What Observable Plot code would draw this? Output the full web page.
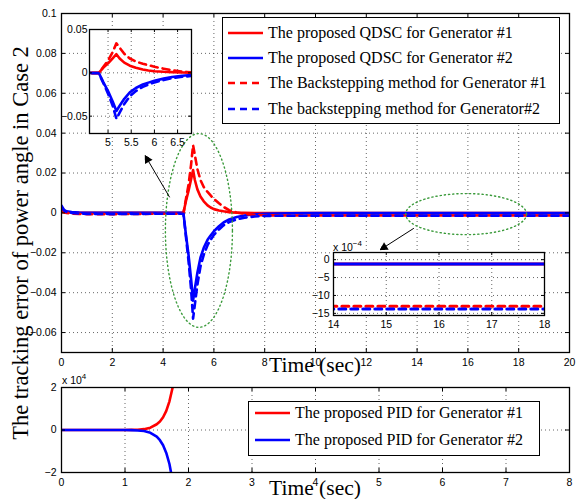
<!DOCTYPE html>
<html><head><meta charset="utf-8">
<script src="https://cdn.jsdelivr.net/npm/d3@7"></script>
<script src="https://cdn.jsdelivr.net/npm/@observablehq/plot@0.6"></script>
<style>
body{margin:0;background:#fff}
#c{position:relative;width:583px;height:499px;overflow:hidden;background:#fff}
#c > *{position:absolute}
.serif{font-family:"Liberation Serif","Times New Roman",serif;color:#000;white-space:nowrap;line-height:1}
.sans{font-family:"Liberation Sans",Arial,sans-serif;font-size:10.5px;color:#000;white-space:nowrap;line-height:1}
.leg{border:1px solid #000;background:#fff;box-sizing:border-box}
.row{position:absolute;height:20px;display:flex;align-items:center;font-size:16px}
.row svg{margin-right:5px}
</style></head><body><div id="c"></div><script>
// ---------------- data ----------------
const time = [0, 0.1, 0.2, 0.4, 0.7, 1, 2, 3, 4, 4.6, 4.8, 4.9, 5.0, 5.1, 5.18, 5.25, 5.35, 5.47, 5.6, 5.75, 5.87, 6.0, 6.2, 6.38, 6.6, 6.9, 7.2, 7.6, 8, 9, 10, 12, 14, 16, 18, 20];
const qdscG1 = [0.0012, 0.0007, 0.0004, 0.0002, 0.0001, 0, 0, 0, 0, 0, 0, 0.006, 0.011, 0.0168, 0.0215, 0.0165, 0.0118, 0.0082, 0.0058, 0.0038, 0.0027, 0.0019, 0.0012, 0.0008, 0.0004, 0.0001, 0, -0.0001, -0.00012, -0.00012, -0.00012, -0.00012, -0.00012, -0.00012, -0.00012, -0.00012];
const qdscG2 = [0.0037, 0.0015, 0.0008, 0.0004, 0.0002, 0.0001, 0, 0, 0, 0, 0, -0.011, -0.021, -0.033, -0.044, -0.038, -0.030, -0.0225, -0.0175, -0.0135, -0.0113, -0.0092, -0.0067, -0.0048, -0.0033, -0.0021, -0.0013, -0.0007, -0.0004, -0.0002, -0.00012, -0.00012, -0.00012, -0.00012, -0.00012, -0.00012];
const bsG1 = [0.0005, 0.0002, 0, -0.0003, -0.0005, -0.0006, -0.0006, -0.0005, -0.0004, -0.0004, -0.0003, 0.007, 0.014, 0.024, 0.034, 0.029, 0.022, 0.0165, 0.013, 0.0105, 0.0088, 0.007, 0.0048, 0.003, 0.0014, 0.0002, -0.0005, -0.001, -0.0012, -0.0013, -0.0013, -0.0013, -0.0013, -0.0013, -0.0013, -0.0013];
const bsG2 = [0.003, 0.0012, 0.0005, 0, -0.0003, -0.0005, -0.0006, -0.0005, -0.0004, -0.0004, -0.0004, -0.012, -0.024, -0.038, -0.053, -0.046, -0.036, -0.027, -0.021, -0.0162, -0.0135, -0.011, -0.0083, -0.0062, -0.0046, -0.0032, -0.0024, -0.0018, -0.0015, -0.0014, -0.00138, -0.00138, -0.00138, -0.00138, -0.00138, -0.00138];
const pidTime = [0, 0.5, 1, 1.1, 1.2, 1.3, 1.4, 1.5, 1.55, 1.6, 1.65, 1.7, 1.75, 1.8];
const pidG1 = [0, 0, 0, 50, 150, 400, 1100, 2700, 4000, 6000, 9000, 13500, 20000, 29000];
const pidG2 = [0, 0, 0, -50, -200, -500, -1300, -3100, -4800, -7200, -10800, -16000, -24000, -34000];

const mainXTicks = [0, 2, 4, 6, 8, 10, 12, 14, 16, 18, 20];
const mainYTicks = [-0.06, -0.04, -0.02, 0, 0.02, 0.04, 0.06, 0.08, 0.1];
const inset1XTicks = [5, 5.5, 6, 6.5];
const inset1YTicks = [-0.05, 0, 0.05];
const inset2XTicks = [14, 15, 16, 17, 18];
const inset2YTicks = [-15, -10, -5, 0];
const pidXTicks = [0, 1, 2, 3, 4, 5, 6, 7, 8];
const pidYTicks = [-2, 0, 2];

const mainLabels = ["The proposed QDSC for Generator #1", "The proposed QDSC for Generator #2", "The Backstepping method for Generator #1", "The backstepping method for Generator#2"];
const pidLabels = ["The proposed PID for Generator #1", "The proposed PID for Generator #2"];
const yTitle = "The tracking error of power angle in Case 2";
const xTitle = "Time (sec)";

// ---------------- styling ----------------
const RED = "#ff0000", BLUE = "#0000ff", GREEN = "#3a9a3a";
const DASH = "7,5";
const series = [
  {vals: qdscG1, stroke: RED, dash: null},
  {vals: qdscG2, stroke: BLUE, dash: null},
  {vals: bsG1, stroke: RED, dash: DASH},
  {vals: bsG2, stroke: BLUE, dash: DASH}
];
const axStyle = {background: "transparent", fontFamily: "Liberation Sans, Arial, sans-serif", fontSize: "10.5px", color: "#000", overflow: "visible"};
const fmt = d => String(+d.toFixed(3)).replace("-", "\u2212");
const gridStyle = {stroke: "#000", strokeOpacity: 0.6, strokeDasharray: "1,3", strokeWidth: 1};

function tickMarks(xt, yt, pw, ph, len = 4) {
  return [
    Plot.ruleX(xt, {x: d => d, insetTop: ph - len, stroke: "#000"}),
    Plot.ruleX(xt, {x: d => d, insetBottom: ph - len, stroke: "#000"}),
    Plot.ruleY(yt, {y: d => d, insetRight: pw - len, stroke: "#000"}),
    Plot.ruleY(yt, {y: d => d, insetLeft: pw - len, stroke: "#000"})
  ];
}
function lineMarks(scale, width) {
  return series.map(s => Plot.line(time.map((t, i) => ({t, v: s.vals[i] * scale})), {
    x: "t", y: "v", stroke: s.stroke, strokeWidth: width, strokeDasharray: s.dash, clip: true
  }));
}
// annotation ellipses (center / radii in data units)
function ellipse(cx, cy, rx, ry) {
  return d3.range(0, 361, 4).map(a => ({x: cx + rx * Math.cos(a * Math.PI / 180), y: cy + ry * Math.sin(a * Math.PI / 180)}));
}
const arrows = [{x1: 4.25, y1: 0.008, x2: 3.3, y2: 0.0286}, {x1: 13.86, y1: -0.0078, x2: 12.56, y2: -0.0184}];

const c = document.getElementById("c");
function place(el, left, top) { el.style.left = left + "px"; el.style.top = top + "px"; c.appendChild(el); return el; }
function div(html, cls, left, top, extra = "") {
  const d = document.createElement("div"); d.className = cls; d.innerHTML = html; d.style.cssText = extra; return place(d, left, top);
}

// titles (under plots)
div(xTitle, "serif", 0, 355, "width:630px;text-align:center;font-size:21.5px;");
div(xTitle, "serif", 0, 478, "width:630px;text-align:center;font-size:21.5px;");
div(yTitle, "serif", 21 - 250, 243 - 11, "width:500px;text-align:center;font-size:22.5px;transform:rotate(-90deg);transform-origin:50% 50%;height:22px;");

// ---------------- main plot ----------------
const mW = 583, mH = 380, mL = 61, mR = 14, mT = 13, mB = 28;
const mPW = mW - mL - mR, mPH = mH - mT - mB;
const main = Plot.plot({
  width: mW, height: mH, marginLeft: mL, marginRight: mR, marginTop: mT, marginBottom: mB,
  style: axStyle,
  x: {domain: [0, 20], ticks: mainXTicks, tickSize: 0, tickPadding: 6, label: null, tickFormat: fmt},
  y: {domain: [-0.07, 0.1], ticks: mainYTicks, tickSize: 0, tickPadding: 5, label: null, tickFormat: fmt},
  marks: [
    Plot.ruleX(mainXTicks.slice(1, -1), {x: d => d, ...gridStyle}),
    Plot.ruleY(mainYTicks.slice(0, -1), {y: d => d, ...gridStyle}),
    ...lineMarks(1, 2.6),
    Plot.line(ellipse(5.41, -0.0088, 1.32, 0.0486), {x: "x", y: "y", stroke: GREEN, strokeWidth: 1.4, strokeDasharray: "1.2,3"}),
    Plot.line(ellipse(15.93, -0.0006, 2.38, 0.0103), {x: "x", y: "y", stroke: GREEN, strokeWidth: 1.4, strokeDasharray: "1.2,3"}),
    Plot.arrow(arrows, {x1: "x1", y1: "y1", x2: "x2", y2: "y2", stroke: "#000", strokeWidth: 1, headLength: 6}),
    Plot.dot([arrows[0]], {x: "x2", y: "y2", symbol: "triangle2", r: 4.2, fill: "#000", rotate: -30, dx: 2.2, dy: 3.8}),
    Plot.dot([arrows[1]], {x: "x2", y: "y2", symbol: "triangle2", r: 4.2, fill: "#000", rotate: -122, dx: 3.7, dy: -2.3}),
    ...tickMarks(mainXTicks, mainYTicks, mPW, mPH),
    Plot.frame({stroke: "#000", strokeWidth: 1.3})
  ]
});
place(main, 0, 0);

// ---------------- inset 1 ----------------
const i1L = 33, i1T = 9, i1PW = 102, i1PH = 104;
const inset1 = Plot.plot({
  width: i1L + i1PW + 8, height: i1T + i1PH + 24, marginLeft: i1L, marginRight: 8, marginTop: i1T, marginBottom: 24,
  style: axStyle,
  x: {domain: [4.6, 6.8], ticks: inset1XTicks, tickSize: 0, tickPadding: 5, label: null, tickFormat: fmt},
  y: {domain: [-0.07, 0.05], ticks: inset1YTicks, tickSize: 0, tickPadding: 2, label: null, tickFormat: fmt},
  marks: [
    Plot.frame({fill: "#fff", stroke: null}),
    Plot.ruleX(inset1XTicks, {x: d => d, ...gridStyle}),
    Plot.ruleY([-0.05, 0], {y: d => d, ...gridStyle}),
    ...lineMarks(1, 2.6),
    ...tickMarks(inset1XTicks, inset1YTicks, i1PW, i1PH, 3),
    Plot.frame({stroke: "#000", strokeWidth: 1.3})
  ]
});
place(inset1, 89 - i1L, 29 - i1T);

// ---------------- inset 2 ----------------
const i2L = 35, i2T = 18, i2PW = 211, i2PH = 63;
const inset2 = Plot.plot({
  width: i2L + i2PW + 8, height: i2T + i2PH + 22, marginLeft: i2L, marginRight: 8, marginTop: i2T, marginBottom: 22,
  style: axStyle,
  x: {domain: [14, 18], ticks: inset2XTicks, tickSize: 0, tickPadding: 5, label: null, tickFormat: fmt},
  y: {domain: [-15.6, 2], ticks: inset2YTicks, tickSize: 0, tickPadding: 4, label: null, tickFormat: fmt},
  marks: [
    Plot.frame({fill: "#fff", stroke: null}),
    Plot.ruleX(inset2XTicks.slice(1, -1), {x: d => d, ...gridStyle}),
    Plot.ruleY(inset2YTicks, {y: d => d, ...gridStyle}),
    ...lineMarks(1e4, 3),
    ...tickMarks(inset2XTicks, inset2YTicks, i2PW, i2PH, 3),
    Plot.frame({stroke: "#000", strokeWidth: 1.3})
  ]
});
place(inset2, 333 - i2L, 252 - i2T);
div("x 10<sup style='font-size:8px;vertical-align:5px'>\u22124</sup>", "sans", 333, 240);

// ---------------- bottom PID plot ----------------
const bW = 583, bH = 127, bT = 15, bB = 27;
const bPW = bW - mL - mR, bPH = bH - bT - bB;
const pid = Plot.plot({
  width: bW, height: bH, marginLeft: mL, marginRight: mR, marginTop: bT, marginBottom: bB,
  style: axStyle,
  x: {domain: [0, 8], ticks: pidXTicks, tickSize: 0, tickPadding: 6, label: null, tickFormat: fmt},
  y: {domain: [-2, 2], ticks: pidYTicks, tickSize: 0, tickPadding: 5, label: null, tickFormat: fmt},
  marks: [
    Plot.ruleX(pidXTicks.slice(1, -1), {x: d => d, ...gridStyle}),
    Plot.ruleY([0], {y: d => d, ...gridStyle}),
    Plot.line(pidTime.map((t, i) => ({t, v: pidG1[i] / 1e4})), {x: "t", y: "v", stroke: RED, strokeWidth: 2.6, clip: true}),
    Plot.line(pidTime.map((t, i) => ({t, v: pidG2[i] / 1e4})), {x: "t", y: "v", stroke: BLUE, strokeWidth: 2.6, clip: true}),
    ...tickMarks(pidXTicks, pidYTicks, bPW, bPH),
    Plot.frame({stroke: "#000", strokeWidth: 1.3})
  ]
});
place(pid, 0, 372);
div("x 10<sup style='font-size:8px;vertical-align:5px'>4</sup>", "sans", 62, 373);

// ---------------- legends ----------------
function sample(color, dash) {
  return `<svg width="35" height="6"><line x1="0" x2="35" y1="3" y2="3" stroke="${color}" stroke-width="2.6" ${dash ? `stroke-dasharray="${dash}"` : ""}/></svg>`;
}
const leg1 = div("", "leg", 222, 17, "width:338px;height:107px;");
const rowCenters1 = [33, 58, 83, 109];
series.forEach((s, i) => {
  const r = document.createElement("div"); r.className = "row serif";
  r.style.left = "5px"; r.style.top = (rowCenters1[i] - 17 - 1 - 10) + "px";
  r.innerHTML = sample(s.stroke, s.dash) + "<span>" + mainLabels[i] + "</span>";
  leg1.appendChild(r);
});
const leg2 = div("", "leg", 248, 401, "width:292px;height:55px;");
const rowCenters2 = [413, 440];
[RED, BLUE].forEach((col, i) => {
  const r = document.createElement("div"); r.className = "row serif";
  r.style.left = "6px"; r.style.top = (rowCenters2[i] - 401 - 1 - 10) + "px";
  r.innerHTML = sample(col, null) + "<span>" + pidLabels[i] + "</span>";
  leg2.appendChild(r);
});
</script></body></html>
